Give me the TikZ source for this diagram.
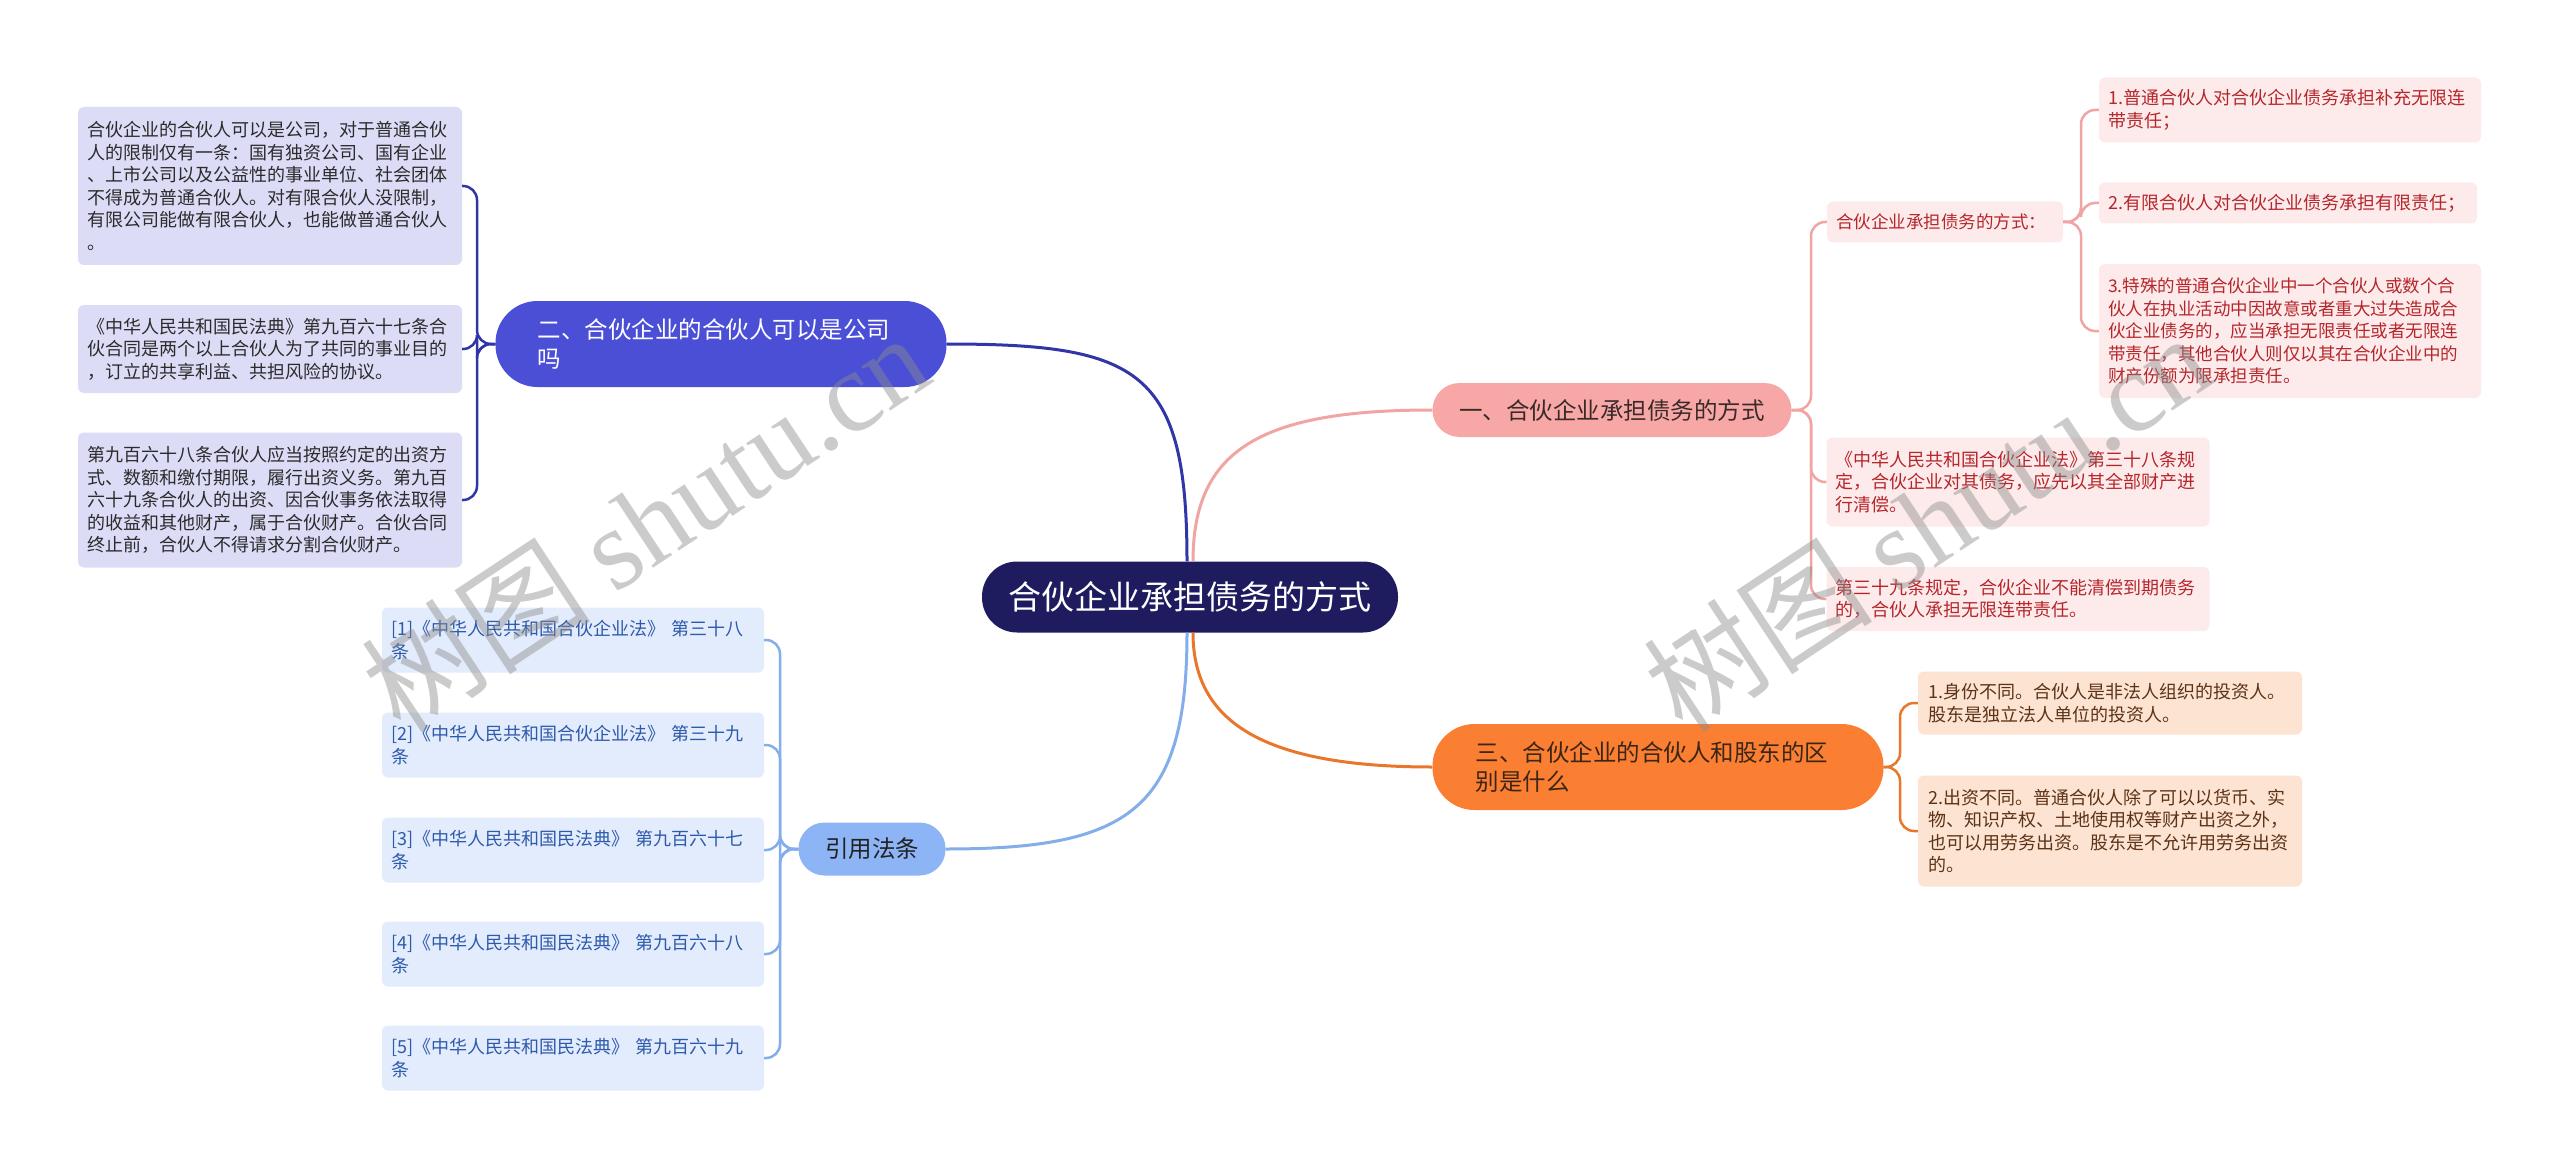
\documentclass[tikz,border=0pt]{standalone}
\usepackage{fontspec}
\setmainfont{Noto Sans CJK SC}
\newfontfamily\wmlatin{Liberation Serif}
\definecolor{navy}{HTML}{1E1C5E}
\definecolor{bAfill}{HTML}{F7A8A6}
\definecolor{bAline}{HTML}{F0A5A3}
\definecolor{bAleaf}{HTML}{FDEBEB}
\definecolor{bAtext}{HTML}{B5262B}
\definecolor{bAhead}{HTML}{3A2A2A}
\definecolor{bBfill}{HTML}{4A4FD6}
\definecolor{bBline}{HTML}{3036A6}
\definecolor{bBleaf}{HTML}{DCDCF7}
\definecolor{bBtext}{HTML}{2B2B2B}
\definecolor{bCfill}{HTML}{FB7F33}
\definecolor{bCline}{HTML}{E8772C}
\definecolor{bCleaf}{HTML}{FDE3D2}
\definecolor{bCtext}{HTML}{5C3317}
\definecolor{bChead}{HTML}{3B2616}
\definecolor{bDfill}{HTML}{8DB4F4}
\definecolor{bDline}{HTML}{84AEEA}
\definecolor{bDleaf}{HTML}{E3ECFC}
\definecolor{bDtext}{HTML}{2E5AAC}
\definecolor{bDhead}{HTML}{222222}
\begin{document}
\begin{tikzpicture}[x=1pt,y=-1pt,
  leafbox/.style={rounded corners=6pt, inner xsep=9pt, inner ysep=0pt, align=left,
    font=\fontsize{18}{22.5}\selectfont},
  headbox/.style={inner xsep=0pt, inner ysep=0pt, font=\fontsize{23.5}{29}\selectfont},
  mainline/.style={line width=3pt},
  brline/.style={line width=2.5pt, rounded corners=14pt},
]
\useasboundingbox (0,0) rectangle (2560,1169);
\fill[white] (0,0) rectangle (2560,1169);

% central node
\node[fill=navy, rounded corners=35pt, minimum width=416pt, minimum height=71pt,
  inner sep=0pt, text=white, font=\fontsize{33}{40}\selectfont] (c) at (1190,597) {合伙企业承担债务的方式};

% branch heads
\node[headbox, fill=bAfill, rounded corners=27pt, minimum width=359pt, minimum height=54pt,
  text=bAhead] (b1) at (1612,410) {一、合伙企业承担债务的方式};
\node[headbox, fill=bBfill, rounded corners=42pt, minimum width=451pt, minimum height=86pt,
  inner xsep=42pt, text width=367pt, align=left, text=white] (b2) at (721,344)
  {二、合伙企业的合伙人可以是公司\\吗};
\node[headbox, fill=bCfill, rounded corners=42pt, minimum width=451pt, minimum height=86pt,
  inner xsep=43pt, text width=365pt, align=left, text=bChead] (b3) at (1658,767)
  {三、合伙企业的合伙人和股东的区\\别是什么};
\node[headbox, fill=bDfill, rounded corners=26pt, minimum width=147pt, minimum height=53pt,
  text=bDhead] (b4) at (872,849) {引用法条};

% branch 2 leaves
\node[leafbox, fill=bBleaf, text=bBtext, text width=366pt, minimum height=158pt, inner xsep=9pt] (a1) at (270,186)
  {合伙企业的合伙人可以是公司，对于普通合伙\\人的限制仅有一条：国有独资公司、国有企业\\、上市公司以及公益性的事业单位、社会团体\\不得成为普通合伙人。对有限合伙人没限制，\\有限公司能做有限合伙人，也能做普通合伙人\\。};
\node[leafbox, fill=bBleaf, text=bBtext, text width=366pt, minimum height=88pt] (a2) at (270,349)
  {《中华人民共和国民法典》第九百六十七条合\\伙合同是两个以上合伙人为了共同的事业目的\\，订立的共享利益、共担风险的协议。};
\node[leafbox, fill=bBleaf, text=bBtext, text width=366pt, minimum height=135pt] (a3) at (270,500)
  {第九百六十八条合伙人应当按照约定的出资方\\式、数额和缴付期限，履行出资义务。第九百\\六十九条合伙人的出资、因合伙事务依法取得\\的收益和其他财产，属于合伙财产。合伙合同\\终止前，合伙人不得请求分割合伙财产。};

% branch 1 children
\node[leafbox, fill=bAleaf, text=bAtext, text width=218pt, minimum height=41pt,
  font=\fontsize{17.5}{22}\selectfont] (s) at (1945,222) {合伙企业承担债务的方式：};
\node[leafbox, fill=bAleaf, text=bAtext, text width=364pt, minimum height=65pt] (p1) at (2290,110)
  {1.普通合伙人对合伙企业债务承担补充无限连\\带责任；};
\node[leafbox, fill=bAleaf, text=bAtext, text width=360pt, minimum height=41pt] (p2) at (2288,203)
  {2.有限合伙人对合伙企业债务承担有限责任；};
\node[leafbox, fill=bAleaf, text=bAtext, text width=364pt, minimum height=134pt,
  font=\fontsize{17.5}{22.5}\selectfont] (p3) at (2290,331)
  {3.特殊的普通合伙企业中一个合伙人或数个合\\伙人在执业活动中因故意或者重大过失造成合\\伙企业债务的，应当承担无限责任或者无限连\\带责任，其他合伙人则仅以其在合伙企业中的\\财产份额为限承担责任。};
\node[leafbox, fill=bAleaf, text=bAtext, text width=365pt, minimum height=89pt] (l1) at (2018,482)
  {《中华人民共和国合伙企业法》第三十八条规\\定，合伙企业对其债务，应先以其全部财产进\\行清偿。};
\node[leafbox, fill=bAleaf, text=bAtext, text width=365pt, minimum height=64pt] (l2) at (2018,599)
  {第三十九条规定，合伙企业不能清偿到期债务\\的，合伙人承担无限连带责任。};

% branch 3 children
\node[leafbox, fill=bCleaf, text=bCtext, text width=364pt, minimum height=63pt, inner xsep=10pt] (q1) at (2110,703)
  {1.身份不同。合伙人是非法人组织的投资人。\\股东是独立法人单位的投资人。};
\node[leafbox, fill=bCleaf, text=bCtext, text width=364pt, minimum height=111pt, inner xsep=10pt] (q2) at (2110,831)
  {2.出资不同。普通合伙人除了可以以货币、实\\物、知识产权、土地使用权等财产出资之外，\\也可以用劳务出资。股东是不允许用劳务出资\\的。};

% branch 4 children
\node[leafbox, fill=bDleaf, text=bDtext, text width=364pt, minimum height=65pt] (r1) at (573,640)
  {[1]《中华人民共和国合伙企业法》 第三十八\\条};
\node[leafbox, fill=bDleaf, text=bDtext, text width=364pt, minimum height=65pt] (r2) at (573,745)
  {[2]《中华人民共和国合伙企业法》 第三十九\\条};
\node[leafbox, fill=bDleaf, text=bDtext, text width=364pt, minimum height=65pt] (r3) at (573,850)
  {[3]《中华人民共和国民法典》 第九百六十七\\条};
\node[leafbox, fill=bDleaf, text=bDtext, text width=364pt, minimum height=65pt] (r4) at (573,954)
  {[4]《中华人民共和国民法典》 第九百六十八\\条};
\node[leafbox, fill=bDleaf, text=bDtext, text width=364pt, minimum height=65pt] (r5) at (573,1058)
  {[5]《中华人民共和国民法典》 第九百六十九\\条};

% spine coordinates
\coordinate (k1) at (1811,410);
\coordinate (k1s) at (2081,222);
\coordinate (k2) at (477,344);
\coordinate (k3) at (1900,767);
\coordinate (k4) at (780,849);

% main connectors
\draw[mainline, bAline] ([xshift=3pt]c.north) .. controls (1193,450) and (1260,410) .. (b1.west);
\draw[mainline, bBline] ([xshift=-3pt]c.north) .. controls (1187,370) and (1140,344) .. (b2.east);
\draw[mainline, bCline] ([xshift=3pt]c.south) .. controls (1193,720) and (1260,767) .. (b3.west);
\draw[mainline, bDline] ([xshift=-3pt]c.south) .. controls (1187,810) and (1130,849) .. (b4.east);

% branch 1 brackets
\foreach \t in {s,l1,l2} \draw[brline, bAline] (b1.east) -- (k1) |- (\t.west);
\foreach \t in {p1,p2,p3} \draw[brline, bAline] (s.east) -- (k1s) |- (\t.west);
% branch 2 brackets
\foreach \t in {a1,a2,a3} \draw[brline, bBline] (b2.west) -- (k2) |- (\t.east);
% branch 3 brackets
\foreach \t in {q1,q2} \draw[brline, bCline] (b3.east) -- (k3) |- (\t.west);
% branch 4 brackets
\foreach \t in {r1,r2,r3,r4,r5} \draw[brline, bDline] (b4.west) -- (k4) |- (\t.east);

% watermarks
\node[rotate=33.5, text=black!45, opacity=0.45, font=\fontsize{115}{120}\selectfont] (wm1) at (645,522)
  {树图 {\wmlatin shutu.cn}};
\node[rotate=33.5, text=black!45, opacity=0.45, font=\fontsize{115}{120}\selectfont] (wm2) at (1927,522)
  {树图 {\wmlatin shutu.cn}};
\end{tikzpicture}
\end{document}
